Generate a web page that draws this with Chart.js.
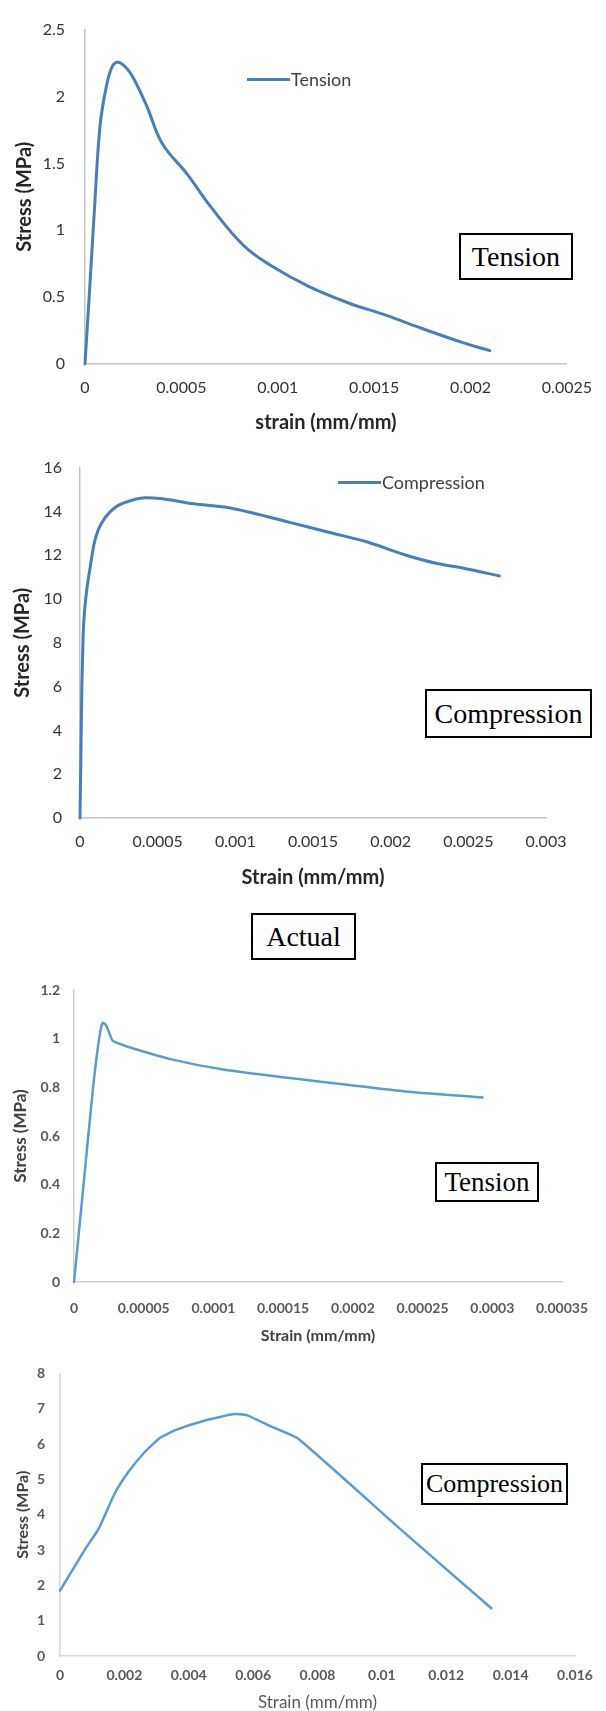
<!DOCTYPE html>
<html><head><meta charset="utf-8">
<script src="https://cdn.jsdelivr.net/npm/chart.js@4.4.0/dist/chart.umd.min.js"></script>
<style>
html,body{margin:0;padding:0;background:#fff;}
body{width:606px;height:1711px;position:relative;overflow:hidden;}
canvas{position:absolute;left:0;}
.box{position:absolute;box-sizing:border-box;border:2px solid #000;font-family:"Liberation Serif","Times New Roman",serif;color:#000;display:flex;align-items:center;justify-content:center;white-space:nowrap;background:#fff;}
.leg{position:absolute;display:flex;align-items:center;height:24px;font-family:Lato,sans-serif;font-size:18px;color:#404040;white-space:nowrap;}
.leg .l{display:inline-block;height:3px;width:43px;margin-right:1px;}
</style></head><body>
<canvas id="c1" style="top:0px" width="606" height="440"></canvas>
<canvas id="c2" style="top:440px" width="606" height="455"></canvas>
<canvas id="c3" style="top:960px" width="606" height="390"></canvas>
<canvas id="c4" style="top:1350px" width="606" height="361"></canvas>

<div class="leg" style="left:247px;top:67px;"><span class="l" style="background:#4A7EBB"></span>Tension</div>
<div class="leg" style="left:338px;top:470px;"><span class="l" style="background:#4A7EBB"></span>Compression</div>

<div class="box" style="left:459px;top:233px;width:114px;height:47px;font-size:28px;">Tension</div>
<div class="box" style="left:425px;top:689px;width:167px;height:49px;font-size:28px;">Compression</div>
<div class="box" style="left:251px;top:913px;width:105px;height:47px;font-size:28px;">Actual</div>
<div class="box" style="left:435px;top:1162px;width:104px;height:40px;font-size:27px;">Tension</div>
<div class="box" style="left:421px;top:1463px;width:147px;height:42px;font-size:26px;">Compression</div>

<script>
// ---- Data (strain in mm/mm, stress in MPa) ----
const tensionActualStrain = [0, 0.00003, 0.00005, 0.000078, 0.00011, 0.00014, 0.00017, 0.00021, 0.00025, 0.00032, 0.0004, 0.00053, 0.00065, 0.00082, 0.00096, 0.00116, 0.00136, 0.00156, 0.00176, 0.00196, 0.0021];
const tensionActualStress = [0, 0.70, 1.18, 1.78, 2.07, 2.22, 2.255, 2.22, 2.14, 1.93, 1.65, 1.42, 1.18, 0.89, 0.74, 0.58, 0.46, 0.365, 0.26, 0.16, 0.10];

const compActualStrain = [0, 0.000006, 0.000012, 0.00002, 0.00003, 0.000045, 0.00006, 0.00009, 0.00012, 0.00016, 0.00023, 0.00033, 0.00042, 0.00053, 0.00073, 0.00093, 0.0011, 0.00135, 0.0016, 0.00185, 0.0021, 0.0023, 0.00247, 0.0027];
const compActualStress = [0, 3.0, 6.0, 8.3, 9.5, 10.5, 11.2, 12.5, 13.2, 13.7, 14.2, 14.5, 14.62, 14.58, 14.35, 14.2, 13.95, 13.5, 13.05, 12.6, 12.0, 11.62, 11.4, 11.05];

const tensionModelStrain = [0, 0.0000065, 0.0000135, 0.000018, 0.0000205, 0.000023, 0.0000255, 0.000028, 0.000038, 0.00007, 0.000108, 0.000155, 0.000196, 0.000238, 0.000293];
const tensionModelStress = [0, 0.38, 0.79, 1.0, 1.065, 1.055, 1.02, 0.99, 0.968, 0.915, 0.872, 0.838, 0.811, 0.783, 0.758];

const compModelStrain = [0, 0.0008, 0.0012, 0.0017, 0.0021, 0.0026, 0.0031, 0.0036, 0.0044, 0.0054, 0.0058, 0.0065, 0.0074, 0.0106, 0.0134];
const compModelStress = [1.85, 3.05, 3.6, 4.6, 5.18, 5.74, 6.17, 6.40, 6.64, 6.85, 6.82, 6.52, 6.15, 3.57, 1.35];

// ---- Tick values and labels ----
const x1Ticks = [0, 0.0005, 0.001, 0.0015, 0.002, 0.0025];
const x1Labels = ['0', '0.0005', '0.001', '0.0015', '0.002', '0.0025'];
const y1Ticks = [0, 0.5, 1, 1.5, 2, 2.5];
const y1Labels = ['0', '0.5', '1', '1.5', '2', '2.5'];

const x2Ticks = [0, 0.0005, 0.001, 0.0015, 0.002, 0.0025, 0.003];
const x2Labels = ['0', '0.0005', '0.001', '0.0015', '0.002', '0.0025', '0.003'];
const y2Ticks = [0, 2, 4, 6, 8, 10, 12, 14, 16];
const y2Labels = ['0', '2', '4', '6', '8', '10', '12', '14', '16'];

const x3Ticks = [0, 0.00005, 0.0001, 0.00015, 0.0002, 0.00025, 0.0003, 0.00035];
const x3Labels = ['0', '0.00005', '0.0001', '0.00015', '0.0002', '0.00025', '0.0003', '0.00035'];
const y3Ticks = [0, 0.2, 0.4, 0.6, 0.8, 1, 1.2];
const y3Labels = ['0', '0.2', '0.4', '0.6', '0.8', '1', '1.2'];

const x4Ticks = [0, 0.002, 0.004, 0.006, 0.008, 0.01, 0.012, 0.014, 0.016];
const x4Labels = ['0', '0.002', '0.004', '0.006', '0.008', '0.01', '0.012', '0.014', '0.016'];
const y4Ticks = [0, 1, 2, 3, 4, 5, 6, 7, 8];
const y4Labels = ['0', '1', '2', '3', '4', '5', '6', '7', '8'];

function pts(xs, ys) { return xs.map((x, i) => ({ x: x, y: ys[i] })); }

function build(id, o) {
  return new Chart(document.getElementById(id), {
    type: 'scatter',
    data: { datasets: [{
      label: o.label, data: pts(o.xs, o.ys), showLine: true,
      borderColor: o.color, backgroundColor: o.color, borderWidth: o.lw,
      pointRadius: 0, pointHoverRadius: 0, tension: o.tension,
      cubicInterpolationMode: o.mode || 'default', fill: false, clip: false,
      borderCapStyle: 'round', borderJoinStyle: 'round'
    }]},
    options: {
      responsive: false, animation: false, devicePixelRatio: 1,
      layout: { padding: { left: 0, top: o.padTop, right: o.padRight, bottom: 0 } },
      plugins: { legend: { display: false }, tooltip: { enabled: false } },
      scales: {
        x: {
          type: 'linear', min: o.xTicks[0], max: o.xTicks[o.xTicks.length - 1],
          afterBuildTicks: s => { s.ticks = o.xTicks.map(v => ({ value: v })); },
          afterFit: s => { s.height = o.xAxisH; },
          grid: { display: false, drawTicks: false },
          border: { display: true, color: o.axisColor, width: o.axisW },
          ticks: { padding: o.xTickPad, color: o.tickColor, font: o.tickFont, maxRotation: 0, autoSkip: false,
                   callback: (v, i) => o.xLabels[i] },
          title: { display: true, text: o.xTitle, color: o.xTitleColor, font: o.xTitleFont,
                   padding: { top: 0, bottom: o.xTitlePad } }
        },
        y: {
          type: 'linear', min: o.yTicks[0], max: o.yTicks[o.yTicks.length - 1],
          afterBuildTicks: s => { s.ticks = o.yTicks.map(v => ({ value: v })); },
          afterFit: s => { s.width = o.yAxisW; },
          grid: { display: false, drawTicks: false },
          border: { display: true, color: o.axisColor, width: o.axisW },
          ticks: { padding: o.yTickPad, color: o.tickColor, font: o.tickFont, autoSkip: false,
                   callback: (v, i) => o.yLabels[i] },
          title: { display: true, text: 'Stress (MPa)', color: o.yTitleColor, font: o.yTitleFont,
                   padding: { top: o.yTitlePad, bottom: 0 } }
        }
      }
    }
  });
}

const F = 'Lato, "Open Sans", sans-serif';

build('c1', {
  label: 'Tension', xs: tensionActualStrain, ys: tensionActualStress,
  color: '#4A7EBB', lw: 3, tension: 0.4,
  padTop: 17, padRight: 38, xAxisH: 76, yAxisW: 85,
  xTicks: x1Ticks, xLabels: x1Labels, yTicks: y1Ticks, yLabels: y1Labels,
  axisColor: '#C4C4C4', axisW: 1.5,
  tickColor: '#333333', tickFont: { family: F, size: 16 },
  xTickPad: 14, yTickPad: 20,
  xTitle: 'strain (mm/mm)', xTitleColor: '#262626', xTitleFont: { family: F, size: 20, weight: 'bold' }, xTitlePad: 5,
  yTitleColor: '#262626', yTitleFont: { family: F, size: 20, weight: 'bold' }, yTitlePad: 13
});

build('c2', {
  label: 'Compression', xs: compActualStrain, ys: compActualStress,
  color: '#4A7EBB', lw: 3, tension: 0.4, mode: 'monotone',
  padTop: 22, padRight: 60, xAxisH: 77, yAxisW: 80,
  xTicks: x2Ticks, xLabels: x2Labels, yTicks: y2Ticks, yLabels: y2Labels,
  axisColor: '#C4C4C4', axisW: 1.5,
  tickColor: '#333333', tickFont: { family: F, size: 16 },
  xTickPad: 14, yTickPad: 18,
  xTitle: 'Strain (mm/mm)', xTitleColor: '#262626', xTitleFont: { family: F, size: 20, weight: 'bold' }, xTitlePad: 5,
  yTitleColor: '#262626', yTitleFont: { family: F, size: 20, weight: 'bold' }, yTitlePad: 11
});

build('c3', {
  label: 'Tension', xs: tensionModelStrain, ys: tensionModelStress,
  color: '#5B9BD5', lw: 2.5, tension: 0.2,
  padTop: 30, padRight: 44, xAxisH: 68, yAxisW: 74,
  xTicks: x3Ticks, xLabels: x3Labels, yTicks: y3Ticks, yLabels: y3Labels,
  axisColor: '#D0D0D0', axisW: 1.5,
  tickColor: '#595959', tickFont: { family: F, size: 14, weight: 'bold' },
  xTickPad: 17.6, yTickPad: 14,
  xTitle: 'Strain (mm/mm)', xTitleColor: '#404040', xTitleFont: { family: F, size: 16, weight: 'bold' }, xTitlePad: 4.4,
  yTitleColor: '#404040', yTitleFont: { family: F, size: 17, weight: 'bold' }, yTitlePad: 10.8
});

build('c4', {
  label: 'Compression', xs: compModelStrain, ys: compModelStress,
  color: '#5B9BD5', lw: 2.5, tension: 0.15,
  padTop: 23, padRight: 31, xAxisH: 55, yAxisW: 60,
  xTicks: x4Ticks, xLabels: x4Labels, yTicks: y4Ticks, yLabels: y4Labels,
  axisColor: '#D9D9D9', axisW: 1.5,
  tickColor: '#595959', tickFont: { family: F, size: 14, weight: 'bold' },
  xTickPad: 10.6, yTickPad: 15,
  xTitle: 'Strain (mm/mm)', xTitleColor: '#595959', xTitleFont: { family: F, size: 17, lineHeight: 1 }, xTitlePad: 0,
  yTitleColor: '#404040', yTitleFont: { family: F, size: 16, weight: 'bold' }, yTitlePad: 13.4
});
</script>
</body></html>
